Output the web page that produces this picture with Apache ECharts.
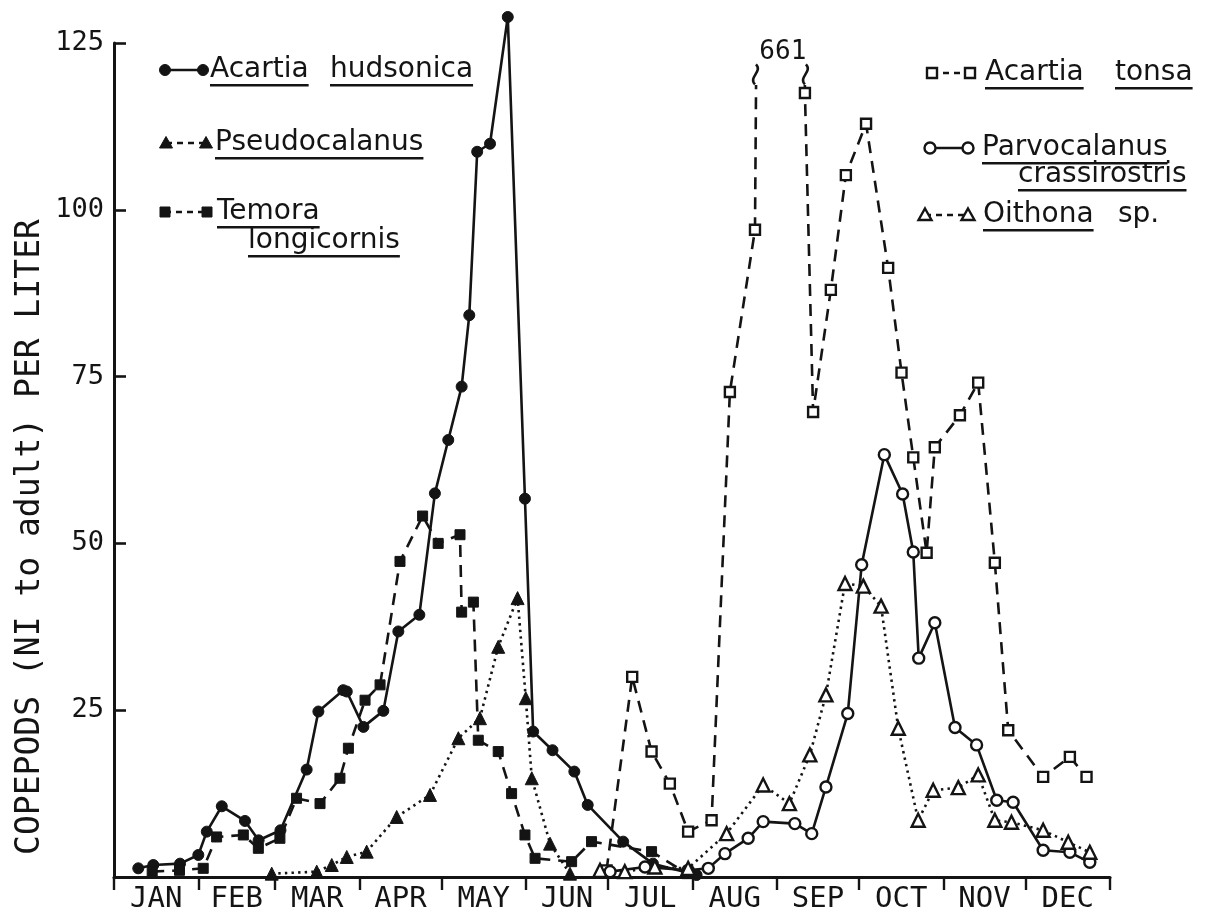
<!DOCTYPE html>
<html>
<head>
<meta charset="utf-8">
<script src="https://cdn.jsdelivr.net/npm/echarts@6/dist/echarts.min.js"></script>
<style>
  html, body { margin: 0; padding: 0; background: #fff; }
  #chart { width: 1214px; height: 918px; }
</style>
</head>
<body>
<div id="chart"></div>
<script>
// Seasonal abundance of copepods (NI to adult) per liter; x = day of year
const months = ['JAN','FEB','MAR','APR','MAY','JUN','JUL','AUG','SEP','OCT','NOV','DEC'];
const monthStarts = [0, 31, 59, 90, 120, 151, 181, 212, 243, 273, 304, 334, 365];
const yTicks = [25, 50, 75, 100, 125];

const hudsonicaDay = [8.9, 14.4, 24.2, 30.9, 34.0, 39.5, 48.0, 53.0, 61.0, 70.6, 74.9, 84.0, 85.3, 91.4, 98.7, 104.2, 111.9, 117.6, 122.5, 127.4, 130.2, 133.1, 137.8, 144.3, 150.6, 153.6, 160.7, 168.7, 173.6, 186.6, 197.5, 213.5];
const hudsonicaVal = [1.3, 1.8, 2.0, 3.3, 6.8, 10.6, 8.4, 5.5, 7.0, 16.1, 24.8, 28.0, 27.8, 22.5, 24.9, 36.8, 39.3, 57.5, 65.5, 73.5, 84.2, 108.7, 109.9, 128.9, 56.7, 21.8, 19.0, 15.8, 10.8, 5.3, 2.0, 0.3];

const pseudoDay = [57.8, 74.3, 79.8, 85.3, 92.6, 103.6, 115.8, 126.2, 134.1, 140.8, 147.9, 150.9, 153.1, 159.8, 167.1];
const pseudoVal = [0.5, 0.8, 1.8, 3.0, 3.8, 9.0, 12.3, 20.8, 23.8, 34.5, 41.8, 26.8, 14.8, 5.0, 0.5];

const temoraDay = [14.0, 24.0, 32.7, 37.6, 47.4, 52.9, 60.8, 66.9, 75.5, 82.8, 85.9, 92.0, 97.5, 104.8, 113.1, 118.8, 126.8, 127.4, 131.7, 133.5, 140.8, 145.7, 150.6, 154.3, 167.7, 175.0, 197.0, 210.0];
const temoraVal = [0.8, 1.0, 1.3, 6.0, 6.3, 4.3, 5.8, 11.8, 11.0, 14.8, 19.3, 26.5, 28.8, 47.3, 54.1, 50.0, 51.3, 39.7, 41.2, 20.5, 18.8, 12.5, 6.3, 2.8, 2.3, 5.3, 3.8, 0.5];

const tonsaDay = [180.5, 189.9, 197.0, 203.7, 210.4, 219.0, 225.7, 234.9, 245.1, 253.2, 256.2, 262.7, 268.2, 275.6, 283.7, 288.6, 292.9, 297.8, 300.8, 310.0, 316.7, 322.8, 327.7, 340.5, 350.3, 356.4];
const tonsaVal = [1.0, 30.0, 18.8, 14.0, 6.8, 8.5, 72.7, 97.0, 661, 117.5, 69.7, 88.0, 105.2, 112.9, 91.3, 75.6, 62.9, 48.6, 64.4, 69.2, 74.1, 47.1, 22.0, 15.0, 18.0, 15.0];

const parvoDay = [181.8, 194.6, 210.4, 217.8, 223.9, 232.4, 237.9, 249.5, 255.7, 260.9, 268.9, 274.0, 282.3, 289.0, 292.9, 294.9, 300.8, 308.2, 316.1, 323.5, 329.5, 340.5, 350.3, 357.6];
const parvoVal = [0.8, 1.5, 1.0, 1.3, 3.5, 5.8, 8.3, 8.0, 6.5, 13.5, 24.5, 46.8, 63.3, 57.4, 48.7, 32.8, 38.1, 22.4, 19.8, 11.5, 11.2, 4.0, 3.7, 2.2];

const oithonaDay = [178.1, 187.2, 198.2, 210.4, 224.5, 237.9, 247.5, 255.0, 260.9, 267.9, 274.6, 281.1, 287.4, 294.7, 300.2, 309.4, 316.7, 322.8, 328.9, 340.5, 349.7, 357.6];
const oithonaVal = [1.0, 0.8, 1.5, 1.3, 6.5, 13.8, 11.0, 18.3, 27.3, 44.0, 43.6, 40.6, 22.3, 8.5, 13.0, 13.4, 15.3, 8.5, 8.2, 7.0, 5.2, 3.7];

// ---------- layout & style ----------
const INK = '#141414';
const MONO = '"DejaVu Sans Mono", "Liberation Mono", monospace';
const SANS = '"DejaVu Sans", "Liberation Sans", sans-serif';
const W = 1214, H = 918;
const plot = { left: 114, right: 104, top: 43, bottom: 41 };
const yMax = 125;
const plotH = H - plot.top - plot.bottom;
const breakLevel = 118.5;                     // off-scale values are cut here
const breakTop = H - plot.bottom - breakLevel * plotH / yMax;

const monthMids = months.map((m, i) => (monthStarts[i] + monthStarts[i + 1]) / 2);
const zip = (d, v) => d.map((x, i) => [x, v[i]]);

const DASH = [12, 8];
const DOT = [2.4, 4.2];

function lineSeries(name, data, symbol, filled, dash, opts) {
  return Object.assign({
    name, type: 'line', data,
    xAxisIndex: 0, yAxisIndex: 0,
    symbol, symbolSize: symbol === 'triangle' ? 13 : (symbol === 'rect' ? 10 : 11),
    showAllSymbol: true,
    clip: false,
    lineStyle: { color: INK, width: 2.6, type: dash || 'solid' },
    itemStyle: filled
      ? { color: INK, borderColor: INK, borderWidth: 1 }
      : { color: '#fff', borderColor: INK, borderWidth: 2.4 },
    emphasis: { disabled: true },
    z: 3
  }, opts || {});
}

const series = [
  lineSeries('Acartia hudsonica', zip(hudsonicaDay, hudsonicaVal), 'circle', true, null),
  lineSeries('Pseudocalanus', zip(pseudoDay, pseudoVal), 'triangle', true, DOT),
  lineSeries('Temora longicornis', zip(temoraDay, temoraVal), 'rect', true, DASH),
  lineSeries('Acartia tonsa', zip(tonsaDay, tonsaVal), 'rect', false, DASH,
    { xAxisIndex: 1, yAxisIndex: 1, clip: true }),
  lineSeries('Parvocalanus crassirostris', zip(parvoDay, parvoVal), 'circle', false, null),
  lineSeries('Oithona sp.', zip(oithonaDay, oithonaVal), 'triangle', false, DOT)
];

const chart = echarts.init(document.getElementById('chart'), null, { renderer: 'canvas' });

chart.setOption({
  animation: false,
  backgroundColor: '#fff',
  grid: [
    { left: plot.left, right: plot.right, top: plot.top, bottom: plot.bottom },
    { left: plot.left, right: plot.right, top: breakTop, bottom: plot.bottom }
  ],
  xAxis: [
    {
      gridIndex: 0, type: 'value', min: 0, max: 365,
      axisLine: { show: true, lineStyle: { color: INK, width: 3 } },
      axisTick: { show: true, customValues: monthStarts, length: 13, lineStyle: { color: INK, width: 2.4 } },
      axisLabel: {
        customValues: monthMids, margin: 8,
        formatter: v => months[monthMids.findIndex(m => Math.abs(m - v) < 0.01)] || '',
        color: INK, fontFamily: MONO, fontSize: 29
      },
      splitLine: { show: false }
    },
    { gridIndex: 1, type: 'value', min: 0, max: 365, show: false }
  ],
  yAxis: [
    {
      gridIndex: 0, type: 'value', min: 0, max: yMax, interval: 25,
      axisLine: { show: true, lineStyle: { color: INK, width: 3 } },
      axisTick: { show: true, inside: true, customValues: yTicks, length: 12, lineStyle: { color: INK, width: 2.6 } },
      axisLabel: { customValues: yTicks, margin: 10, color: INK, fontFamily: MONO, fontSize: 27 },
      splitLine: { show: false }
    },
    { gridIndex: 1, type: 'value', min: 0, max: breakLevel, show: false }
  ],
  series
});

// ---------- legend, axis title, broken-scale peak ----------
const LEG_FONT = '28px ' + SANS;
const measure = (() => {
  const ctx = document.createElement('canvas').getContext('2d');
  return (t, f) => { ctx.font = f; return ctx.measureText(t).width; };
})();

function symbolEl(kind, filled, cx, cy) {
  const style = filled
    ? { fill: INK, stroke: INK, lineWidth: 1 }
    : { fill: '#fff', stroke: INK, lineWidth: 2.4 };
  if (kind === 'circle') return { type: 'circle', shape: { cx, cy, r: 5.5 }, style, z: 5 };
  if (kind === 'rect') return { type: 'rect', shape: { x: cx - 5, y: cy - 5, width: 10, height: 10 }, style, z: 5 };
  return { type: 'polygon', shape: { points: [[cx, cy - 6.5], [cx + 6.5, cy + 5], [cx - 6.5, cy + 5]] }, style, z: 5 };
}

// icon span, row centre, and where each word of the series name sits
const legendLayout = [
  { x0: 165, x1: 203, y: 70,  words: [[210, 70], [330, 70]] },
  { x0: 166, x1: 206, y: 143, words: [[215, 143]] },
  { x0: 165, x1: 207, y: 212, words: [[217, 212], [248, 241]] },
  { x0: 932, x1: 970, y: 73,  words: [[985, 73], [1115, 73]] },
  { x0: 930, x1: 968, y: 148, words: [[982, 148], [1018, 175]] },
  { x0: 925, x1: 968, y: 215, words: [[983, 215], [1118, 215]] }
];
const legendUnderline = [[true, true], [true], [true, true], [true, true], [true, true], [true, false]];

const graphics = [];
series.forEach((s, i) => {
  const L = legendLayout[i];
  const filled = s.itemStyle.color === INK;
  const sym = s.symbol;
  graphics.push({
    type: 'line', shape: { x1: L.x0, y1: L.y, x2: L.x1, y2: L.y },
    style: { stroke: INK, lineWidth: 2.6, lineDash: Array.isArray(s.lineStyle.type) ? [6, 5] : null }, z: 4
  });
  graphics.push(symbolEl(sym, filled, L.x0, L.y));
  graphics.push(symbolEl(sym, filled, L.x1, L.y));
  s.name.split(' ').forEach((word, k) => {
    const [wx, wy] = L.words[k];
    graphics.push({
      type: 'text', x: wx, y: wy,
      style: { text: word, font: LEG_FONT, fill: INK, align: 'left', verticalAlign: 'middle' }, z: 5
    });
    if (legendUnderline[i][k]) {
      graphics.push({
        type: 'rect', shape: { x: wx, y: wy + 14, width: measure(word, LEG_FONT), height: 2.6 },
        style: { fill: INK }, z: 5
      });
    }
  });
});

graphics.push({
  type: 'text', x: 30, y: 537, rotation: Math.PI / 2,
  style: { text: 'COPEPODS (NI to adult) PER LITER', font: '33px ' + MONO, fill: INK, align: 'center', verticalAlign: 'middle' }
});

// off-scale Acartia tonsa peak: break marks and its value
const pk = tonsaVal.indexOf(Math.max(...tonsaVal));
const toPx = p => chart.convertToPixel({ xAxisIndex: 1, yAxisIndex: 1 }, p);
const xL = toPx([tonsaDay[pk - 1], breakLevel])[0];
const xR = toPx([tonsaDay[pk + 1], breakLevel])[0];
const xP = toPx([tonsaDay[pk], breakLevel])[0];
[xL, xR].forEach(x => {
  const yb = breakTop - 2;
  graphics.push({
    type: 'bezierCurve',
    shape: { x1: x, y1: yb, x2: x + 1, y2: yb - 20, cpx1: x - 7, cpy1: yb - 7, cpx2: x + 8, cpy2: yb - 13 },
    style: { stroke: INK, lineWidth: 2.6, fill: null }, z: 5
  });
});
graphics.push({
  type: 'text', x: xP, y: breakTop - 34,
  style: { text: String(tonsaVal[pk]), font: '26px ' + MONO, fill: INK, align: 'center', verticalAlign: 'middle' }, z: 5
});

chart.setOption({ graphic: graphics });
</script>
</body>
</html>
